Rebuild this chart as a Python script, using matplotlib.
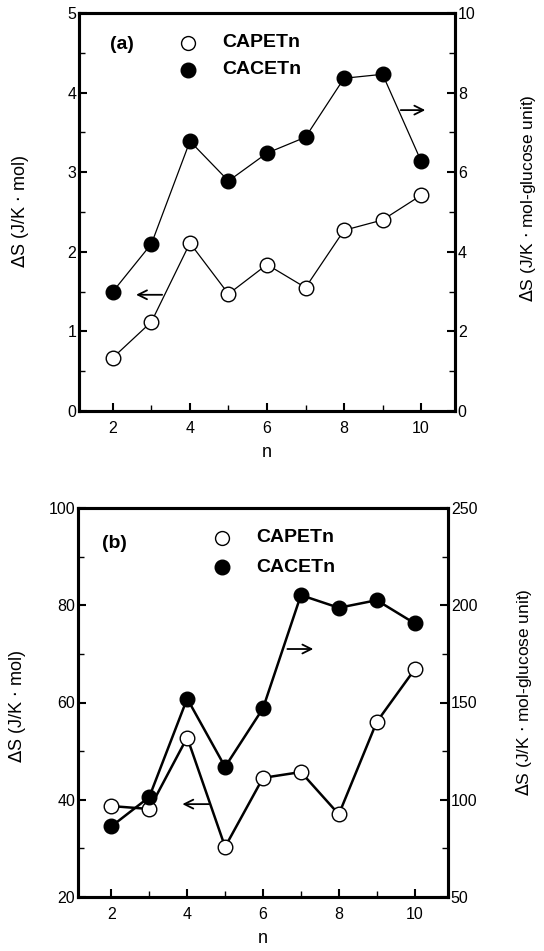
import numpy as np
import matplotlib.pyplot as plt
from matplotlib.ticker import MultipleLocator

plt.rcParams['font.family'] = ['Liberation Sans', 'DejaVu Sans']

n = [2, 3, 4, 5, 6, 7, 8, 9, 10]

# (a) CAPETn on left axis (J/K mol), CACETn on right axis (J/K mol-glucose unit)
a_capet = [0.67, 1.12, 2.11, 1.47, 1.84, 1.55, 2.27, 2.40, 2.71]
a_cacet = [3.00, 4.20, 6.78, 5.78, 6.48, 6.88, 8.36, 8.46, 6.28]

# (b)
b_capet = [38.7, 38.1, 52.8, 30.3, 44.5, 45.7, 37.0, 56.0, 66.8]
b_cacet = [86.3, 101.4, 152.0, 116.9, 147.0, 205.2, 198.7, 202.6, 190.7]

fig = plt.figure(figsize=(5.44, 9.51), dpi=100)
W, H = 544, 951


def make_panel(rect, capet, cacet, ylim_l, ylim_r, lstep, rstep, minor_l,
               tag, lw, arrows, tagpos, legpos, lab_l, lab_r):
    x0, y0, x1, y1 = rect
    ax = fig.add_axes([x0 / W, 1 - y1 / H, (x1 - x0) / W, (y1 - y0) / H])
    ax2 = ax.twinx()
    ax.plot(n, capet, '-o', color='black', lw=lw, mfc='white', mec='black',
            ms=10.5, mew=1.0, zorder=3)
    ax2.plot(n, cacet, '-o', color='black', lw=lw, mfc='black', mec='black',
             ms=10.5, zorder=3)
    ax.set_xlim(1.12, 10.88)
    ax.set_ylim(*ylim_l)
    ax2.set_ylim(*ylim_r)
    ax.xaxis.set_major_locator(MultipleLocator(2))
    ax.xaxis.set_minor_locator(MultipleLocator(1))
    ax.yaxis.set_major_locator(MultipleLocator(lstep))
    ax.yaxis.set_minor_locator(MultipleLocator(minor_l))
    ax2.yaxis.set_major_locator(MultipleLocator(rstep))
    ax2.yaxis.set_minor_locator(MultipleLocator(rstep / 2))
    for a in (ax, ax2):
        a.tick_params(direction='in', which='major', length=6, width=1.5,
                      labelsize=11.5, pad=2)
        a.tick_params(direction='in', which='minor', length=4, width=1.0)
        for s in a.spines.values():
            s.set_linewidth(2.2)
    ax.tick_params(axis='x', which='both', top=False, pad=7)
    ax.set_xlabel('n', fontsize=13, labelpad=6)
    ax.set_ylabel(r'$\mathit{\Delta}$S (J/K $\cdot$ mol)', fontsize=13)
    ax2.set_ylabel(r'$\mathit{\Delta}$S (J/K $\cdot$ mol-glucose unit)',
                   fontsize=12.5)
    ax.yaxis.set_label_coords(*lab_l)
    ax2.yaxis.set_label_coords(*lab_r)
    ax.text(tagpos[0], tagpos[1], tag, transform=ax.transAxes,
            fontsize=14, fontweight='bold', va='center')
    lx, ly, dy = legpos
    ax.plot([lx], [ly], 'o', transform=ax.transAxes, ms=10, mfc='white',
            mec='black', mew=1.0, clip_on=False)
    ax.plot([lx], [ly - dy], 'o', transform=ax.transAxes, ms=10.5,
            mfc='black', mec='black', clip_on=False)
    ax.text(lx + 0.092, ly, 'CAPETn', transform=ax.transAxes, fontsize=14,
            fontweight='bold', va='center')
    ax.text(lx + 0.092, ly - dy, 'CACETn', transform=ax.transAxes,
            fontsize=14, fontweight='bold', va='center')
    for (xs, xe, yv) in arrows:
        ax.annotate('', xy=(xe, yv), xytext=(xs, yv),
                    arrowprops=dict(arrowstyle='->', color='black', lw=1.3,
                                    mutation_scale=16))
    return ax


make_panel((79, 13, 455, 411), a_capet, a_cacet, (0, 5), (0, 10), 1, 2, 0.5,
           '(a)', 0.9, [(3.35, 2.53, 1.46), (9.4, 10.18, 3.78)],
           (0.082, 0.92), (0.29, 0.925, 0.068), (-0.128, 0.5), (1.168, 0.535))
make_panel((78, 508, 448, 897), b_capet, b_cacet, (20, 100), (50, 250), 20,
           50, 10, '(b)', 1.8, [(4.64, 3.80, 39.1), (6.57, 7.40, 71.0)],
           (0.065, 0.91), (0.389, 0.923, 0.075), (-0.135, 0.49), (1.178, 0.527))

plt.savefig('out.png', dpi=100)
